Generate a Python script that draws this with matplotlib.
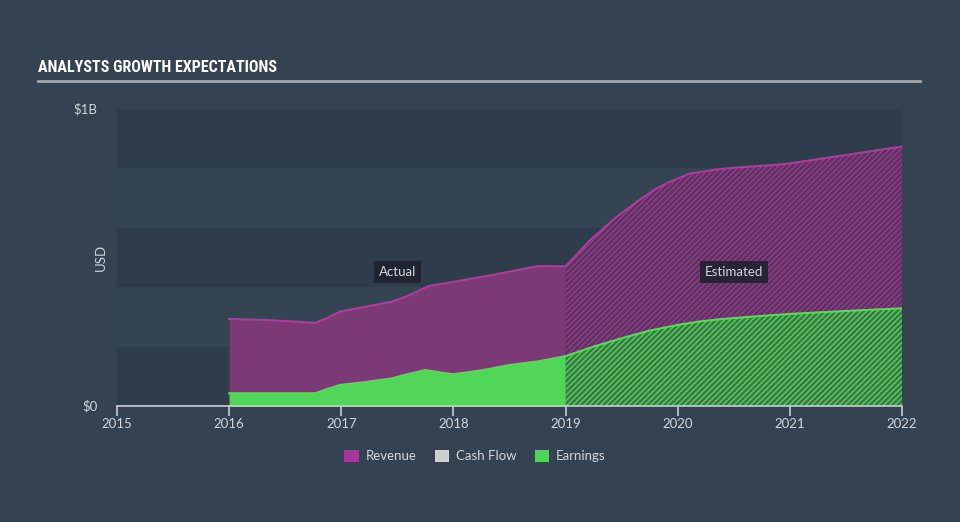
import matplotlib
matplotlib.use("Agg")
from matplotlib import pyplot as plt
from matplotlib.patches import Patch

# values (USD billions)
rev_years = [2016.0, 2016.3, 2016.6, 2016.77, 2016.88, 2016.99, 2017.2, 2017.45, 2017.6,
             2017.78, 2018.0, 2018.3, 2018.6, 2018.75, 2019.0]
rev_vals = [0.293, 0.290, 0.284, 0.280, 0.297, 0.318, 0.333, 0.351, 0.372,
            0.404, 0.418, 0.438, 0.460, 0.471, 0.470]
rev_est_years = [2019.0, 2019.22, 2019.45, 2019.66, 2019.8, 2019.93, 2020.11, 2020.38,
                 2020.6, 2020.85, 2021.0, 2021.5, 2022.0]
rev_est_vals = [0.470, 0.559, 0.635, 0.694, 0.730, 0.755, 0.783, 0.798,
                0.805, 0.811, 0.817, 0.845, 0.874]

earn_years = [2016.0, 2016.77, 2016.88, 2016.99, 2017.2, 2017.45, 2017.6, 2017.75, 2017.9,
              2018.0, 2018.25, 2018.5, 2018.75, 2019.0]
earn_vals = [0.043, 0.043, 0.058, 0.071, 0.080, 0.093, 0.108, 0.121, 0.112,
             0.107, 0.120, 0.138, 0.150, 0.168]
earn_est_years = [2019.0, 2019.25, 2019.5, 2019.75, 2020.0, 2020.2, 2020.4, 2020.7, 2021.0,
                  2021.5, 2022.0]
earn_est_vals = [0.168, 0.200, 0.228, 0.254, 0.273, 0.285, 0.293, 0.302, 0.310,
                 0.320, 0.329]

year_ticks = [2015, 2016, 2017, 2018, 2019, 2020, 2021, 2022]
legend_labels = ["Revenue", "Cash Flow", "Earnings"]

BG = "#344251"
DARK_BAND = "#2f3c4b"
LIGHT_BAND = "#354453"
TXT = "#d2d6dc"
REV_FILL = "#7b3a75"
REV_LINE = "#b23a9e"
EARN_FILL = "#52d65a"
EARN_LINE = "#4ee04e"

plt.rcParams["hatch.linewidth"] = 0.9
plt.rcParams["font.family"] = ["Lato", "DejaVu Sans"]

fig = plt.figure(figsize=(9.6, 5.22), dpi=100)
fig.patch.set_facecolor(BG)
ax = fig.add_axes([117 / 960, 116 / 522, 785 / 960, 297 / 522])
ax.set_facecolor(BG)
ax.set_xlim(2015, 2022)
ax.set_ylim(0, 1.0)

# horizontal background bands
for i in range(5):
    ax.axhspan(i * 0.2, (i + 1) * 0.2, color=DARK_BAND if i % 2 == 0 else LIGHT_BAND,
               lw=0, zorder=0)

# actual
ax.fill_between(rev_years, 0, rev_vals, color=REV_FILL, lw=0, zorder=2)
ax.plot(rev_years, rev_vals, color=REV_LINE, lw=1.5, zorder=3)
ax.fill_between(earn_years, 0, earn_vals, color=EARN_FILL, lw=0, zorder=4)
ax.plot(earn_years, earn_vals, color=EARN_LINE, lw=1.5, zorder=5)

# estimated (hatched)
ax.fill_between(rev_est_years, 0, rev_est_vals, facecolor="#5c3360", edgecolor="#9a3d90",
                hatch="//////", lw=0, zorder=2)
ax.plot(rev_est_years, rev_est_vals, color=REV_LINE, lw=1.5, zorder=3)
ax.fill_between(earn_est_years, 0, earn_est_vals, facecolor="#3a7a44", edgecolor="#5ad862",
                hatch="//////", lw=0, zorder=4)
ax.plot(earn_est_years, earn_est_vals, color=EARN_LINE, lw=1.5, zorder=5)

# baseline before data
ax.plot([2015, 2016], [0, 0], color="#56606e", lw=1.5, zorder=3)

for side in ["top", "right", "left"]:
    ax.spines[side].set_visible(False)
ax.spines["bottom"].set_color("#c8ccd4")
ax.spines["bottom"].set_linewidth(1.2)
ax.spines["bottom"].set_zorder(6)

ax.set_xticks(year_ticks)
ax.set_xticklabels([str(y) for y in year_ticks])
ax.tick_params(axis="x", colors="#c8ccd4", length=7, width=1.2, labelsize=9.5, pad=2,
               labelcolor=TXT)
ax.set_yticks([0, 1.0])
ax.set_yticklabels(["$0", "$1B"])
ax.tick_params(axis="y", length=0, labelsize=9.5, labelcolor=TXT, pad=14)
for lbl in ax.get_yticklabels():
    lbl.set_verticalalignment("center")
ax.set_ylabel("USD", color=TXT, fontsize=9.5, labelpad=0)
ax.yaxis.set_label_coords(-0.013, 0.5)

box = dict(boxstyle="square,pad=0.35", facecolor="#1b222c", edgecolor="none", alpha=0.85)
ax.text(2017.5, 0.451, "Actual", color=TXT, fontsize=9.5, ha="center", va="center",
        bbox=box, zorder=7)
ax.text(2020.5, 0.451, "Estimated", color=TXT, fontsize=9.5, ha="center", va="center",
        bbox=box, zorder=7)

# title and rule
fig.text(38 / 960, 1 - 68 / 522, "ANALYSTS GROWTH EXPECTATIONS", color="white",
         fontsize=11.5, fontweight="bold", va="center",
         family=["Roboto Condensed", "Open Sans Condensed", "Roboto"])
fig.add_artist(plt.Line2D([38 / 960, 920 / 960], [1 - 81 / 522, 1 - 81 / 522],
                          color="#a0a6ae", lw=2))

handles = [Patch(facecolor="#a8359a", edgecolor="none"),
           Patch(facecolor="#d0d0d0", edgecolor="none"),
           Patch(facecolor=EARN_FILL, edgecolor="none")]
fig.legend(handles, legend_labels, loc="center", bbox_to_anchor=(475 / 960, 1 - 456 / 522),
           ncol=3, frameon=False, fontsize=9.5, labelcolor=TXT, handlelength=1.1,
           handleheight=1.1, handletextpad=0.5, columnspacing=1.4)

fig.savefig("out.png", dpi=100, facecolor=BG)
